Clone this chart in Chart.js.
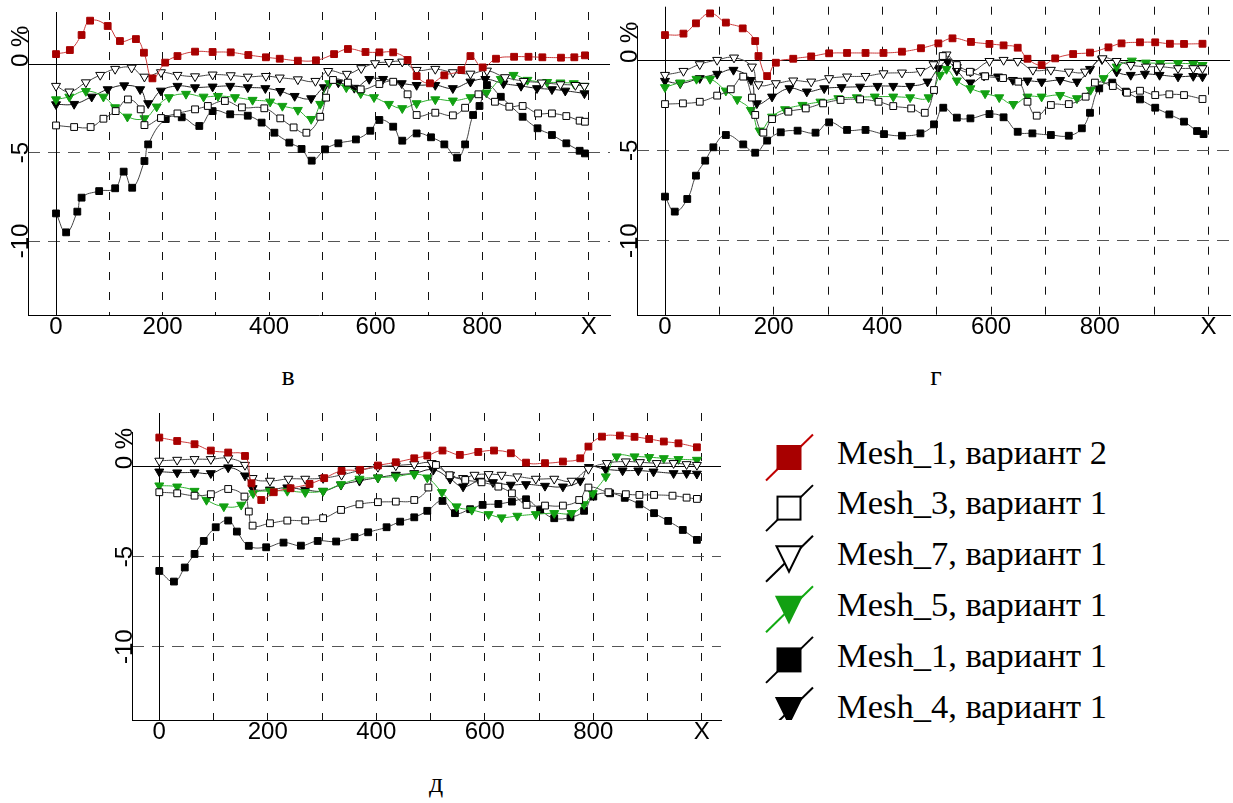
<!DOCTYPE html>
<html><head><meta charset="utf-8">
<script src="https://cdn.jsdelivr.net/npm/chart.js@4.4.0/dist/chart.umd.min.js"></script>
<style>
html,body{margin:0;padding:0;background:#fff;}
body{width:1233px;height:803px;overflow:hidden;position:relative;}
canvas{position:absolute;}
.cap{position:absolute;width:60px;text-align:center;font-family:'Liberation Serif','Times New Roman',serif;font-size:28px;line-height:28px;color:#000;}
.leg{position:absolute;left:837px;font-family:'Liberation Serif','Times New Roman',serif;font-size:34.5px;line-height:34.5px;white-space:nowrap;color:#000;}
svg{position:absolute;left:0;top:0;}
</style></head>
<body>
<canvas id="cv" width="620" height="350" style="left:0px;top:0px;"></canvas>
<canvas id="cg" width="624" height="350" style="left:609px;top:0px;"></canvas>
<canvas id="cd" width="630" height="355" style="left:104px;top:400px;"></canvas>
<div class="cap" style="left:258px;top:362px;">в</div>
<div class="cap" style="left:906px;top:362px;">г</div>
<div class="cap" style="left:406px;top:769px;">д</div>
<div id="legend"></div>
<script>
// ---------- series names ----------
const seriesNames = ['Mesh_1, вариант 2','Mesh_3, вариант 1','Mesh_7, вариант 1','Mesh_5, вариант 1','Mesh_1, вариант 1','Mesh_4, вариант 1'];
// ---------- axis ticks ----------
const xGridValues = [0,100,200,300,400,500,600,700,800,900,1000];
const xTickValues = [0,200,400,600,800,1000];
const xTickText = ['0','200','400','600','800','X'];
const yTickValues = [0,-5,-10];
const yTickText = ['0 %','-5','-10'];

// ---------- panel "в" ----------
const V_M1V2 = [[0,0.56],[26,0.79],[48,1.64],[64,2.45],[97,2.15],[120,1.30],[150,1.41],[165,0.64],[181,-0.81],[205,0.08],[228,0.45],[261,0.70],[294,0.68],[328,0.66],[361,0.51],[394,0.38],[420,0.30],[454,0.19],[488,0.21],[522,0.56],[548,0.85],[581,0.68],[607,0.66],[633,0.66],[660,0.23],[677,-0.68],[702,-1.09],[729,-0.64],[761,-0.34],[778,0.45],[801,-0.19],[826,0.30],[860,0.41],[887,0.41],[913,0.38],[948,0.36],[973,0.38],[993,0.49]];
const V_M3 = [[0,-3.47],[34,-3.56],[65,-3.56],[89,-3.09],[112,-2.66],[135,-2.0],[159,-2.56],[166,-3.45],[197,-3.05],[228,-2.79],[261,-2.56],[285,-2.37],[317,-2.09],[349,-2.45],[391,-2.50],[421,-3.07],[446,-3.58],[470,-3.88],[496,-2.98],[507,-1.90],[520,-0.90],[548,-1.05],[572,-1.43],[607,-1.13],[633,-1.0],[660,-1.71],[677,-2.88],[712,-2.75],[745,-2.90],[768,-2.47],[793,-1.71],[824,-2.13],[851,-2.41],[876,-2.37],[905,-2.79],[931,-2.79],[958,-2.94],[983,-3.20],[993,-3.26]];
const V_M7 = [[0,-1.24],[25,-1.56],[56,-1.04],[83,-0.62],[111,-0.28],[142,-0.21],[166,-0.72],[197,-0.47],[228,-0.62],[261,-0.70],[294,-0.60],[328,-0.64],[360,-0.72],[394,-0.68],[420,-0.77],[454,-0.87],[487,-0.96],[511,-0.40],[546,-0.56],[573,-0.24],[599,0.04],[625,0.11],[650,0.13],[677,-0.34],[712,-0.28],[745,-0.47],[778,-0.55],[809,-0.38],[843,-0.75],[878,-0.96],[912,-1.05],[947,-1.15],[975,-1.19],[992,-1.24]];
const V_M5 = [[0,-2.0],[25,-1.85],[56,-1.53],[89,-1.85],[111,-2.45],[134,-2.98],[166,-3.07],[189,-2.41],[212,-1.88],[244,-1.69],[277,-1.85],[304,-1.81],[336,-1.88],[369,-2.03],[402,-2.13],[425,-2.37],[454,-2.60],[479,-3.11],[496,-2.26],[513,-1.09],[545,-1.32],[572,-1.66],[597,-1.88],[625,-2.26],[650,-2.50],[677,-2.22],[712,-2.0],[745,-2.07],[778,-1.88],[808,-1.62],[835,-0.85],[859,-0.62],[885,-0.90],[922,-1.02],[947,-1.05],[972,-1.09],[992,-1.24]];
const V_M1V1 = [[0,-8.44],[19,-9.51],[40,-8.34],[48,-7.55],[81,-7.18],[111,-7.02],[127,-6.08],[143,-6.99],[166,-5.48],[173,-4.54],[206,-3.11],[236,-3.01],[269,-3.50],[294,-2.66],[327,-2.84],[360,-2.92],[386,-3.31],[410,-3.88],[438,-4.44],[461,-4.80],[480,-5.46],[505,-4.82],[530,-4.48],[563,-4.26],[590,-3.77],[607,-3.16],[633,-3.54],[650,-4.33],[677,-3.92],[704,-4.14],[729,-4.54],[753,-5.29],[768,-4.54],[783,-2.88],[795,-2.37],[809,-1.19],[835,-1.85],[876,-2.98],[904,-3.63],[931,-4.01],[958,-4.48],[983,-4.90],[993,-5.05]];
const V_M4 = [[0,-2.28],[34,-2.26],[67,-1.85],[97,-1.43],[128,-1.21],[158,-1.43],[173,-2.22],[197,-1.51],[228,-1.24],[261,-1.32],[294,-1.28],[327,-1.24],[360,-1.32],[393,-1.37],[421,-1.53],[448,-1.81],[479,-1.94],[503,-1.32],[530,-1.05],[560,-1.35],[588,-0.85],[614,-0.85],[649,-1.09],[677,-1.19],[712,-1.19],[745,-1.37],[778,-1.0],[806,-0.85],[840,-1.10],[873,-1.24],[903,-1.37],[931,-1.43],[956,-1.51],[992,-1.66]];

// ---------- panel "г" ----------
const G_M1V2 = [[0,1.38],[34,1.46],[57,2.03],[83,2.58],[112,2.07],[143,1.75],[166,1.05],[172,0.22],[188,-0.89],[204,-0.15],[236,0.07],[269,0.20],[302,0.37],[335,0.39],[369,0.39],[402,0.39],[436,0.46],[471,0.65],[503,0.92],[529,1.20],[563,1.0],[597,0.89],[623,0.81],[649,0.68],[667,0.07],[693,-0.28],[718,0.09],[751,0.33],[782,0.41],[816,0.70],[840,0.92],[874,0.98],[902,0.98],[929,0.90],[955,0.89],[989,0.90]];
const G_M3 = [[0,-2.44],[33,-2.40],[64,-2.31],[96,-1.97],[121,-1.62],[144,-0.92],[160,-2.08],[166,-3.04],[181,-4.02],[197,-3.27],[227,-2.86],[259,-2.68],[291,-2.40],[323,-2.21],[359,-2.18],[393,-2.31],[420,-2.55],[453,-2.68],[478,-2.92],[495,-1.66],[511,0.22],[537,-0.28],[561,-0.65],[589,-0.90],[622,-1.0],[650,-1.20],[667,-2.31],[684,-3.08],[710,-2.49],[743,-2.44],[774,-2.03],[791,-1.25],[824,-1.44],[850,-1.81],[874,-1.70],[902,-1.94],[928,-1.90],[955,-1.94],[989,-2.16]];
const G_M7 = [[0,-0.83],[34,-0.61],[64,-0.24],[96,0.0],[127,0.13],[160,-0.37],[172,-1.35],[204,-1.29],[236,-1.14],[269,-1.20],[302,-1.01],[335,-0.92],[369,-0.89],[402,-0.74],[436,-0.70],[470,-0.61],[494,-0.24],[518,0.30],[537,-0.40],[562,-0.65],[597,-0.06],[623,0.0],[649,-0.06],[677,-0.55],[710,-0.55],[743,-0.65],[773,-0.65],[805,0.09],[831,-0.06],[857,-0.28],[885,-0.37],[911,-0.37],[944,-0.46],[972,-0.46],[989,-0.46]];
const G_M5 = [[0,-1.51],[28,-1.25],[58,-1.05],[83,-1.05],[112,-1.70],[133,-2.18],[158,-2.77],[174,-3.91],[197,-3.14],[221,-2.73],[253,-2.49],[286,-2.31],[319,-2.12],[353,-2.07],[386,-2.03],[420,-2.03],[451,-2.07],[485,-2.07],[506,-0.83],[518,-0.50],[537,-1.14],[562,-1.57],[589,-1.85],[615,-2.07],[641,-2.44],[667,-2.03],[693,-2.03],[727,-1.94],[758,-2.12],[783,-1.66],[807,-1.01],[831,-0.37],[859,-0.04],[885,-0.15],[911,-0.18],[944,-0.18],[972,-0.22],[989,-0.28]];
const G_M1V1 = [[0,-7.56],[18,-8.39],[41,-7.69],[57,-6.40],[74,-5.57],[89,-4.83],[112,-4.15],[144,-4.67],[166,-5.13],[188,-4.46],[213,-4.0],[244,-3.91],[277,-4.02],[302,-3.45],[335,-3.87],[369,-3.87],[403,-4.10],[436,-4.19],[470,-4.06],[495,-3.56],[512,-2.64],[537,-3.19],[562,-3.23],[597,-2.99],[623,-3.17],[649,-3.97],[676,-4.06],[710,-4.15],[743,-4.19],[767,-3.78],[782,-2.92],[799,-1.57],[823,-1.25],[848,-1.75],[874,-2.18],[902,-2.64],[928,-3.01],[955,-3.41],[979,-3.93],[991,-4.10]];
const G_M4 = [[0,-1.16],[28,-1.29],[64,-1.01],[96,-0.77],[126,-0.55],[158,-1.11],[169,-2.40],[197,-2.03],[229,-1.57],[261,-1.75],[293,-1.57],[325,-1.51],[359,-1.48],[391,-1.44],[420,-1.44],[451,-1.44],[483,-1.20],[503,-0.46],[520,-0.10],[537,-0.59],[562,-1.25],[587,-0.87],[613,-0.92],[640,-1.11],[667,-1.14],[693,-1.20],[727,-1.11],[758,-1.20],[782,-0.50],[804,0.04],[831,-0.65],[857,-0.83],[883,-0.77],[910,-0.83],[944,-0.92],[972,-0.89],[989,-0.92]];

// ---------- panel "д" ----------
const D_M1V2 = [[0,1.59],[33,1.40],[65,1.22],[95,0.87],[127,0.76],[158,0.57],[170,-0.94],[188,-1.87],[211,-1.44],[242,-1.22],[277,-0.98],[304,-0.66],[336,-0.26],[370,-0.20],[403,0.04],[436,0.22],[470,0.44],[494,0.59],[522,0.87],[554,0.63],[588,0.79],[617,0.87],[648,0.72],[676,0.20],[711,0.17],[744,0.26],[776,0.44],[791,1.09],[816,1.64],[849,1.70],[876,1.63],[903,1.51],[930,1.37],[957,1.27],[991,1.05]];
const D_M3 = [[0,-1.44],[33,-1.50],[65,-1.63],[95,-1.55],[127,-1.26],[157,-1.68],[165,-2.51],[172,-3.29],[204,-3.16],[236,-3.01],[269,-3.01],[302,-2.88],[335,-2.42],[369,-2.11],[403,-1.99],[436,-1.96],[470,-1.87],[496,-1.18],[510,0.07],[535,-0.50],[564,-0.76],[594,-0.89],[625,-1.13],[650,-1.50],[677,-2.14],[711,-2.18],[744,-2.18],[774,-1.87],[791,-1.18],[828,-1.44],[860,-1.55],[885,-1.59],[912,-1.59],[946,-1.63],[972,-1.74],[991,-1.81]];
const D_M7 = [[0,0.30],[33,0.35],[65,0.39],[95,0.39],[127,0.44],[158,0.07],[172,-0.66],[204,-0.81],[238,-0.70],[269,-0.70],[302,-0.66],[336,-0.48],[369,-0.24],[403,-0.04],[436,0.04],[470,0.11],[502,0.17],[536,-0.48],[560,-0.66],[581,-0.48],[607,-0.44],[631,-0.48],[660,-0.57],[694,-0.70],[728,-0.70],[760,-0.81],[791,-0.15],[825,0.17],[860,0.26],[886,0.22],[917,0.17],[948,0.17],[972,0.11],[991,0.07]];
const D_M5 = [[0,-1.07],[33,-1.13],[65,-1.37],[87,-1.87],[119,-2.23],[151,-2.14],[173,-1.50],[204,-1.37],[236,-1.37],[269,-1.44],[302,-1.37],[335,-1.0],[369,-0.70],[403,-0.63],[436,-0.57],[470,-0.44],[494,-0.63],[521,-1.44],[548,-2.23],[576,-2.42],[607,-2.66],[631,-2.84],[660,-2.75],[694,-2.66],[728,-2.60],[760,-2.60],[783,-2.11],[799,-1.50],[823,-0.57],[843,0.54],[876,0.54],[903,0.50],[930,0.44],[957,0.39],[991,0.35]];
const D_M1V1 = [[0,-5.80],[27,-6.39],[47,-5.61],[65,-4.86],[82,-4.14],[104,-3.38],[127,-3.01],[143,-3.62],[165,-4.41],[197,-4.49],[229,-4.23],[261,-4.40],[292,-4.14],[326,-4.17],[360,-3.93],[385,-3.66],[419,-3.38],[444,-3.07],[470,-2.83],[494,-2.47],[522,-1.92],[545,-2.60],[573,-2.38],[596,-2.14],[625,-2.09],[650,-1.96],[676,-1.83],[702,-2.42],[728,-2.88],[758,-2.83],[783,-2.47],[800,-1.68],[831,-1.50],[858,-1.75],[885,-2.11],[912,-2.60],[938,-3.03],[965,-3.53],[991,-4.08]];
const D_M4 = [[0,-0.30],[33,-0.35],[65,-0.35],[95,-0.39],[127,-0.07],[158,-0.52],[172,-1.22],[204,-1.30],[236,-1.18],[269,-1.31],[302,-1.37],[335,-1.03],[369,-0.81],[403,-0.63],[436,-0.48],[470,-0.39],[505,-0.20],[536,-0.70],[560,-1.13],[590,-0.81],[615,-0.89],[648,-1.03],[676,-1.0],[711,-1.09],[744,-1.13],[776,-0.81],[792,-0.05],[823,-0.17],[854,-0.24],[883,-0.24],[911,-0.30],[948,-0.39],[972,-0.39],[991,-0.42]];

// ---------- styles ----------
const styles = [
  {line:'#cc3a3a', fill:'#a80000', border:'#a80000', shape:'rect', rot:0, r:4.8},
  {line:'#444444', fill:'#ffffff', border:'#000000', shape:'rect', rot:0, r:4.8},
  {line:'#444444', fill:'#ffffff', border:'#000000', shape:'triangle', rot:180, r:5.2},
  {line:'#2eb02e', fill:'#12a012', border:'#12a012', shape:'triangle', rot:180, r:5.2},
  {line:'#444444', fill:'#000000', border:'#000000', shape:'rect', rot:0, r:4.8},
  {line:'#222222', fill:'#000000', border:'#000000', shape:'triangle', rot:180, r:5.2}
];

const panels = [
  {id:'cv', pad:{left:0,right:10,top:12,bottom:0}, xMin:-52.6, xMax:1040, yMin:-14.18, yMax:2.94, series:[V_M1V2,V_M3,V_M7,V_M5,V_M1V1,V_M4]},
  {id:'cg', pad:{left:0,right:3,top:6.7,bottom:0}, xMin:-51.5, xMax:1039.6, yMin:-14.11, yMax:2.95, series:[G_M1V2,G_M3,G_M7,G_M5,G_M1V1,G_M4]},
  {id:'cd', pad:{left:0,right:13,top:13,bottom:0}, xMin:-50.3, xMax:1035.4, yMin:-14.06, yMax:2.95, series:[D_M1V2,D_M3,D_M7,D_M5,D_M1V1,D_M4]}
];

const deco = {
  id:'deco',
  beforeDatasetsDraw(chart){
    const {ctx, chartArea:a, scales:{x, y}} = chart;
    ctx.save();
    ctx.strokeStyle = '#000'; ctx.lineWidth = 1; ctx.setLineDash([]);
    const x0 = Math.round(x.getPixelForValue(0)) + 0.5;
    const y0 = Math.round(y.getPixelForValue(0)) + 0.5;
    const lx = Math.round(a.left) + 0.5;
    ctx.beginPath();
    ctx.moveTo(x0, a.top); ctx.lineTo(x0, a.bottom);
    ctx.moveTo(a.left, y0); ctx.lineTo(a.right, y0);
    ctx.moveTo(lx, y.getPixelForValue(1.9)); ctx.lineTo(lx, a.bottom);
    ctx.stroke();
    ctx.fillStyle = '#000';
    ctx.font = '24px "Liberation Sans", Arial, sans-serif';
    ctx.textBaseline = 'alphabetic';
    yTickValues.forEach((v, i) => {
      ctx.save();
      const py = y.getPixelForValue(v);
      if (v === 0) {
        ctx.translate(a.left - 0.5, py + 3);
        ctx.rotate(-Math.PI / 2);
        ctx.textAlign = 'left';
      } else {
        ctx.translate(a.left - 0.5, py);
        ctx.rotate(-Math.PI / 2);
        ctx.textAlign = 'center';
      }
      ctx.fillText(yTickText[i], 0, 0);
      ctx.restore();
    });
    ctx.restore();
  }
};

panels.forEach(p => {
  const datasets = p.series.map((pts, i) => {
    const s = styles[i];
    return {
      label: seriesNames[i],
      data: pts.map(([x, y]) => ({x, y})),
      borderColor: s.line, borderWidth: 1,
      backgroundColor: s.fill,
      pointStyle: s.shape, pointRotation: s.rot, pointRadius: s.r,
      pointBackgroundColor: s.fill, pointBorderColor: s.border, pointBorderWidth: 1,
      tension: 0.45, fill: false
    };
  });
  new Chart(document.getElementById(p.id), {
    type: 'line',
    data: {datasets},
    options: {
      responsive: false, animation: false, devicePixelRatio: 1,
      layout: {padding: p.pad, autoPadding: false},
      plugins: {legend: {display: false}, tooltip: {enabled: false}},
      events: [],
      scales: {
        x: {
          type: 'linear', min: p.xMin, max: p.xMax,
          afterBuildTicks: s => { s.ticks = xGridValues.map(v => ({value: v})); },
          afterFit: s => { s.height = 35; },
          ticks: {
            autoSkip: false, maxRotation: 0, minRotation: 0,
            padding: 0, color: '#000',
            font: {family: '"Liberation Sans", Arial, sans-serif', size: 24, lineHeight: 1},
            callback: v => { const k = xTickValues.indexOf(v); return k >= 0 ? xTickText[k] : ''; }
          },
          grid: {
            drawTicks: false, lineWidth: 1,
            color: c => (c.tick && c.tick.value === 0) ? 'rgba(0,0,0,0)' : '#111'
          },
          border: {display: true, color: '#000', width: 1, dash: [8, 12]}
        },
        y: {
          type: 'linear', min: p.yMin, max: p.yMax,
          afterBuildTicks: s => { s.ticks = yTickValues.map(v => ({value: v})); },
          afterFit: s => { s.width = 28; },
          ticks: {display: false},
          grid: {
            drawTicks: false, lineWidth: 1,
            color: c => (c.tick && c.tick.value === 0) ? 'rgba(0,0,0,0)' : '#555'
          },
          border: {display: false, dash: [12, 8]}
        }
      }
    },
    plugins: [deco]
  });
});

// ---------- legend ----------
(function(){
  const NS = 'http://www.w3.org/2000/svg';
  const svg = document.createElementNS(NS, 'svg');
  svg.setAttribute('width', '1233'); svg.setAttribute('height', '720');
  const leg = document.getElementById('legend');
  seriesNames.forEach((name, k) => {
    const s = styles[k];
    const cx = 789, cy = 457.5 + 50.6 * k;
    const ln = document.createElementNS(NS, 'line');
    ln.setAttribute('x1', cx - 23); ln.setAttribute('y1', cy + 23);
    ln.setAttribute('x2', cx + 24); ln.setAttribute('y2', cy - 23);
    ln.setAttribute('stroke', k === 0 ? '#c00000' : (k === 3 ? '#11aa11' : '#000'));
    ln.setAttribute('stroke-width', '2');
    svg.appendChild(ln);
    let m;
    if (s.shape === 'rect') {
      m = document.createElementNS(NS, 'rect');
      m.setAttribute('x', cx - 11.5); m.setAttribute('y', cy - 11.5);
      m.setAttribute('width', 23); m.setAttribute('height', 23);
    } else {
      m = document.createElementNS(NS, 'polygon');
      m.setAttribute('points', `${cx-12.5},${cy-12.5} ${cx+12.5},${cy-12.5} ${cx},${cy+13}`);
    }
    m.setAttribute('fill', s.fill);
    m.setAttribute('stroke', s.fill === '#ffffff' ? '#000' : s.fill);
    m.setAttribute('stroke-width', '2');
    svg.appendChild(m);
    const d = document.createElement('div');
    d.className = 'leg';
    d.style.top = (463.5 + 50.8 * k - 28.9) + 'px';
    d.textContent = name;
    leg.appendChild(d);
  });
  document.body.appendChild(svg);
})();
</script>
</body></html>
